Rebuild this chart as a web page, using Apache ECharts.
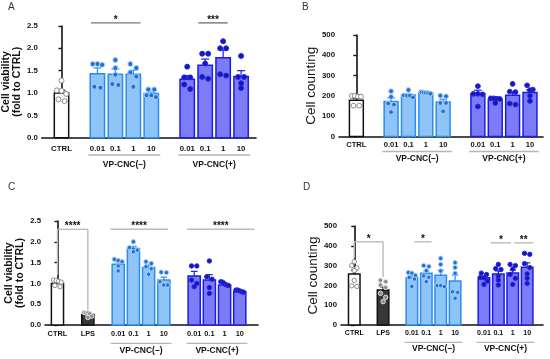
<!DOCTYPE html>
<html><head><meta charset="utf-8">
<script src="https://cdn.jsdelivr.net/npm/echarts@6/dist/echarts.min.js"></script>
<style>html,body{margin:0;padding:0;background:#fff}#c{width:550px;height:359px}</style>
</head><body><div id="c"></div>
<script>
// ================= DATA =================
// Panel A – cell viability (fold to CTRL)
const groupSizesA = [1, 4, 4];
const groupNamesA = ['', 'VP-CNC(–)', 'VP-CNC(+)'];
const tickLabelsA = ['CTRL', '0.01', '0.1', '1', '10', '0.01', '0.1', '1', '10'];
const yTicksA = ['0.0', '0.5', '1.0', '1.5', '2.0', '2.5'];
const meansA = [1.00, 1.43, 1.42, 1.42, 0.99, 1.31, 1.62, 1.79, 1.37];
const semA = [0.06, 0.13, 0.12, 0.09, 0.03, 0.08, 0.14, 0.17, 0.13];
const pointsA = [
  [1.28, 1.06, 1.05, 0.98, 0.86, 0.82],
  [1.65, 1.63, 1.65, 1.12, 1.14],
  [1.74, 1.56, 1.41, 1.18, 1.20],
  [1.65, 1.56, 1.46, 1.37, 1.14],
  [0.91, 1.08, 1.08, 0.95, 0.95],
  [1.59, 1.35, 1.35, 1.19, 1.09],
  [1.88, 1.88, 1.66, 1.36, 1.32],
  [2.16, 2.00, 2.00, 1.39, 1.42],
  [1.83, 1.36, 1.36, 1.22, 1.11]
];
const sigA = [
  { from: 1.64, to: 4.4, y: 2.57, text: '*' },
  { from: 7.62, to: 9.25, y: 2.57, text: '***' }
];

// Panel B – cell counting
const groupSizesB = [1, 4, 4];
const groupNamesB = ['', 'VP-CNC(–)', 'VP-CNC(+)'];
const tickLabelsB = ['CTRL', '0.01', '0.1', '1', '10', '0.01', '0.1', '1', '10'];
const yTicksB = ['0', '100', '200', '300', '400', '500'];
const meansB = [178, 172, 205, 215, 170, 210, 182, 203, 217];
const semB = [10, 18, 6, 3, 14, 18, 5, 18, 13];
const pointsB = [
  [197, 200, 200, 197, 152, 152],
  [223, 195, 163, 157, 120],
  [229, 203, 201, 201, 193],
  [218, 211, 216, 214, 215],
  [201, 198, 165, 165, 124],
  [248, 210, 210, 208, 148],
  [188, 186, 188, 185, 165],
  [259, 221, 219, 162, 157],
  [252, 231, 228, 200, 175]
];
const sigB = [];

// Panel C – cell viability with LPS
const groupSizesC = [1, 1, 4, 4];
const groupNamesC = ['', '', 'VP-CNC(–)', 'VP-CNC(+)'];
const tickLabelsC = ['CTRL', 'LPS', '0.01', '0.1', '1', '10', '0.01', '0.1', '1', '10'];
const yTicksC = ['0.0', '0.5', '1.0', '1.5', '2.0', '2.5'];
const meansC = [1.00, 0.25, 1.46, 1.84, 1.38, 1.08, 1.18, 1.08, 0.96, 0.80];
const semC = [0.03, 0.02, 0.06, 0.05, 0.06, 0.07, 0.11, 0.13, 0.02, 0.02];
const pointsC = [
  [1.08, 1.07, 1.05, 1.03, 0.95, 0.92],
  [0.30, 0.29, 0.29, 0.27, 0.21, 0.18],
  [1.58, 1.55, 1.52, 1.42, 1.30],
  [2.00, 1.86, 1.83, 1.80, 1.76],
  [1.52, 1.48, 1.40, 1.35, 1.22],
  [1.27, 1.26, 1.04, 0.96, 0.96],
  [1.42, 1.42, 1.08, 1.00, 0.92],
  [1.54, 1.16, 1.10, 0.90, 0.76],
  [1.04, 1.03, 0.99, 0.96, 0.95],
  [0.84, 0.84, 0.82, 0.80, 0.79]
];
const sigC = [
  { from: 0, to: 2, y: 2.3, legs: [1.2, 0.36], text: '****' },
  { from: 3.48, to: 7.27, y: 2.3, text: '****' },
  { from: 8.53, to: 12.97, y: 2.3, text: '****' }
];

// Panel D – cell counting with LPS
const groupSizesD = [1, 1, 4, 4];
const groupNamesD = ['', '', 'VP-CNC(–)', 'VP-CNC(+)'];
const tickLabelsD = ['CTRL', 'LPS', '0.01', '0.1', '1', '10', '0.01', '0.1', '1', '10'];
const yTicksD = ['0', '100', '200', '300', '400', '500'];
const meansD = [257, 177, 239, 261, 251, 222, 239, 258, 262, 292];
const semD = [20, 15, 10, 13, 25, 30, 8, 15, 15, 22];
const pointsD = [
  [320, 300, 288, 275, 225, 198, 195],
  [226, 219, 202, 190, 160, 140, 118],
  [265, 262, 250, 240, 232, 195],
  [300, 296, 274, 248, 241, 219],
  [337, 306, 273, 199, 199, 194],
  [315, 290, 261, 168, 165, 135],
  [262, 255, 240, 238, 222, 205],
  [306, 285, 280, 248, 227, 202],
  [306, 300, 283, 255, 236, 205],
  [362, 357, 310, 290, 258, 236, 210]
];
const sigD = [
  { from: 0, to: 2, y: 420, legs: [340, 242], text: '*' },
  { from: 4.17, to: 5.37, y: 420, text: '*' },
  { from: 9.49, to: 10.88, y: 415, text: '*' },
  { from: 11.1, to: 12.43, y: 415, text: '**' }
];

// ================= LAYOUT / STYLE =================
const FONT = '"Liberation Sans", Arial, Helvetica, sans-serif';
const palette = {
  ctrl: { fill: '#ffffff', stroke: '#111111', dotFill: '#ffffff', dotStroke: '#8a8a8a' },
  lps:  { fill: '#383838', stroke: '#111111', dotFill: '#8a8a8a', dotStroke: '#e0e0e0' },
  neg:  { fill: '#8ec4f7', stroke: '#2b8cf2', dotFill: '#1f6fd6', dotStroke: '#a6d0f7' },
  pos:  { fill: '#7b7cf6', stroke: '#1c1ce8', dotFill: '#1515c8', dotStroke: '#2a2ad8' }
};

const panels = [
  { key: 'A', sizes: groupSizesA, names: groupNamesA, ticks: tickLabelsA, yTicks: yTicksA, means: meansA, sem: semA, pts: pointsA, sig: sigA,
    L: { left: 40, top: 26, width: 216, height: 111.7, xMin: -1.1, xMax: 10.83, lblMargin: 7.5, underline: 17.3, groupText: 26.5,
         yName: 'Cell viability\n(fold to CTRL)', nameBold: true, nameSize: 10.5, nameGap: 16, r: 2.5, sigColor: '#777',
         tickFont: 7.8, letterX: 8, letterY: 2 } },
  { key: 'B', sizes: groupSizesB, names: groupNamesB, ticks: tickLabelsB, yTicks: yTicksB, means: meansB, sem: semB, pts: pointsB, sig: sigB,
    L: { left: 339, top: 35, width: 204, height: 101.5, xMin: -1.0, xMax: 10.75, lblMargin: 4, underline: 15, groupText: 22.6,
         yName: 'Cell counting', nameBold: false, nameSize: 13.5, nameGap: 19, r: 2.4, sigColor: '#aaa',
         tickFont: 7.6, letterX: 302, letterY: 2 } },
  { key: 'C', sizes: groupSizesC, names: groupNamesC, ticks: tickLabelsC, yTicks: yTicksC, means: meansC, sem: semC, pts: pointsC, sig: sigC,
    L: { left: 45, top: 221, width: 213, height: 104, xMin: -0.82, xMax: 13.2, lblMargin: 5, underline: 18.3, groupText: 25.5,
         yName: 'Cell viability\n(fold to CTRL)', nameBold: true, nameSize: 10.5, nameGap: 19, r: 2.2, sigColor: '#bbb',
         tickFont: 7.4, letterX: 8, letterY: 182 } },
  { key: 'D', sizes: groupSizesD, names: groupNamesD, ticks: tickLabelsD, yTicks: yTicksD, means: meansD, sem: semD, pts: pointsD, sig: sigD,
    L: { left: 341, top: 226, width: 202, height: 99, xMin: -0.92, xMax: 13.1, lblMargin: 5, underline: 17.3, groupText: 24,
         yName: 'Cell counting', nameBold: false, nameSize: 13.5, nameGap: 20, r: 2.2, sigColor: '#bbb',
         tickFont: 7.1, letterX: 303, letterY: 182 } }
];

const grids = [], xAxes = [], yAxes = [], series = [], graphics = [];

panels.forEach((P, pi) => {
  const L = P.L;
  // positions from group structure (one empty slot between groups)
  const pos = [], groupSpan = [], kinds = [];
  let p = 0;
  P.sizes.forEach((n, gi) => {
    if (gi > 0) p += 1;
    const first = p;
    for (let k = 0; k < n; k++) {
      const idx = pos.length;
      pos.push(p);
      const lbl = P.ticks[idx];
      const gname = P.names[gi];
      kinds.push(lbl === 'CTRL' ? 'ctrl' : lbl === 'LPS' ? 'lps' : (gname.indexOf('+') >= 0 ? 'pos' : 'neg'));
      p++;
    }
    groupSpan.push([first, p - 1]);
  });
  const labelAt = {};
  pos.forEach((x, i) => { labelAt[x] = P.ticks[i]; });

  grids.push({ left: L.left, top: L.top, width: L.width, height: L.height, containLabel: false });

  xAxes.push({
    gridIndex: pi, type: 'value', min: L.xMin, max: L.xMax,
    axisLine: { show: true, onZero: false, lineStyle: { color: '#111', width: 1.6 } },
    axisTick: { show: false }, splitLine: { show: false },
    axisLabel: {
      customValues: pos, margin: L.lblMargin, hideOverlap: false,
      fontFamily: FONT, fontWeight: 'bold', fontSize: L.tickFont, color: '#111',
      formatter: v => labelAt[v] !== undefined ? labelAt[v] : ''
    }
  });

  const yMin = parseFloat(P.yTicks[0]);
  const yMax = parseFloat(P.yTicks[P.yTicks.length - 1]);
  const yInt = parseFloat(P.yTicks[1]) - yMin;
  const dec = (P.yTicks[0].split('.')[1] || '').length;
  yAxes.push({
    gridIndex: pi, type: 'value', min: yMin, max: yMax, interval: yInt,
    name: L.yName, nameLocation: 'middle', nameGap: L.nameGap,
    nameTextStyle: { fontFamily: FONT, fontWeight: L.nameBold ? 'bold' : 'normal', fontSize: L.nameSize,
      lineHeight: L.nameSize + 0.5, color: '#111' },
    axisLine: { show: true, lineStyle: { color: '#111', width: 1.6 } },
    axisTick: { show: true, inside: false, length: 3, lineStyle: { color: '#111', width: 1.4 } },
    splitLine: { show: false },
    axisLabel: { margin: 4, fontFamily: FONT, fontWeight: 'bold', fontSize: 7.8, color: '#111',
      formatter: v => v.toFixed(dec) }
  });

  // Bars
  series.push({
    type: 'custom', xAxisIndex: pi, yAxisIndex: pi, clip: false, z: 2,
    data: P.means.map((m, i) => [pos[i], m]),
    encode: { x: 0, y: 1 },
    renderItem: (params, api) => {
      const i = params.dataIndex;
      const x = api.value(0), v = api.value(1);
      const top = api.coord([x, v]), base = api.coord([x, yMin]);
      const w = api.size([1, 0])[0] * 0.8;
      const st = palette[kinds[i]];
      return { type: 'rect', shape: { x: top[0] - w / 2, y: top[1], width: w, height: base[1] - top[1] },
        style: { fill: st.fill, stroke: st.stroke, lineWidth: 1.5 } };
    }
  });
  // Error bars (mean + SEM, upper only)
  series.push({
    type: 'custom', xAxisIndex: pi, yAxisIndex: pi, clip: false, z: 3,
    data: P.means.map((m, i) => [pos[i], m, m + P.sem[i]]),
    encode: { x: 0, y: [1, 2] },
    renderItem: (params, api) => {
      const i = params.dataIndex;
      const x = api.value(0);
      const a = api.coord([x, api.value(1)]), b = api.coord([x, api.value(2)]);
      const cw = api.size([1, 0])[0] * 0.22;
      const col = palette[kinds[i]].stroke;
      return { type: 'group', children: [
        { type: 'line', shape: { x1: a[0], y1: a[1], x2: b[0], y2: b[1] }, style: { stroke: col, lineWidth: 1.2 } },
        { type: 'line', shape: { x1: b[0] - cw, y1: b[1], x2: b[0] + cw, y2: b[1] }, style: { stroke: col, lineWidth: 1.2 } }
      ] };
    }
  });
  // Individual points, spread horizontally where they overlap
  series.push({
    type: 'custom', xAxisIndex: pi, yAxisIndex: pi, clip: false, z: 4,
    data: P.means.map((m, i) => [pos[i], m]),
    encode: { x: 0, y: 1 },
    renderItem: (params, api) => {
      const i = params.dataIndex;
      const x = api.value(0);
      const cx = api.coord([x, 0])[0];
      const w = api.size([1, 0])[0] * 0.8;
      const r = L.r, d = 2 * r;
      const st = palette[kinds[i]];
      const ys = P.pts[i].map(v => api.coord([x, v])[1]).sort((a, b) => a - b);
      const rows = [];
      ys.forEach(y => {
        const row = rows[rows.length - 1];
        if (row && y - row[0] < d * 0.9) row.push(y); else rows.push([y]);
      });
      const children = [];
      rows.forEach(row => {
        const n = row.length;
        const sp = n > 1 ? Math.min(d * 1.2, (w - d) / (n - 1)) : 0;
        row.forEach((y, k) => {
          children.push({ type: 'circle', shape: { cx: cx + (k - (n - 1) / 2) * sp, cy: y, r: r },
            style: { fill: st.dotFill, stroke: st.dotStroke, lineWidth: 1 } });
        });
      });
      return { type: 'group', children };
    }
  });
  // Group underlines and names
  const named = [];
  P.names.forEach((nm, gi) => { if (nm) named.push({ nm, span: groupSpan[gi] }); });
  series.push({
    type: 'custom', xAxisIndex: pi, yAxisIndex: pi, clip: false, z: 5, silent: true,
    data: named.map(g => [(g.span[0] + g.span[1]) / 2, yMin]),
    encode: { x: 0, y: 1 },
    renderItem: (params, api) => {
      const g = named[params.dataIndex];
      const a = api.coord([g.span[0] - 0.5, yMin]), b = api.coord([g.span[1] + 0.5, yMin]);
      const c = api.coord([api.value(0), yMin]);
      return { type: 'group', children: [
        { type: 'line', shape: { x1: a[0], y1: a[1] + L.underline, x2: b[0], y2: b[1] + L.underline },
          style: { stroke: '#b5b5b5', lineWidth: 1.3 } },
        { type: 'text', x: c[0], y: c[1] + L.groupText,
          style: { text: g.nm, fill: '#111', font: 'bold 8.5px ' + FONT, textAlign: 'center', textVerticalAlign: 'middle' } }
      ] };
    }
  });
  // Significance lines / brackets
  if (P.sig.length) {
    series.push({
      type: 'custom', xAxisIndex: pi, yAxisIndex: pi, clip: false, z: 5, silent: true,
      data: P.sig.map(s => [s.from, s.y]),
      encode: { x: 0, y: 1 },
      renderItem: (params, api) => {
        const s = P.sig[params.dataIndex];
        const a = api.coord([s.from, s.y]), b = api.coord([s.to, s.y]);
        const ch = [{ type: 'line', shape: { x1: a[0], y1: a[1], x2: b[0], y2: b[1] }, style: { stroke: L.sigColor, lineWidth: 1.4 } }];
        if (s.legs) {
          const la = api.coord([s.from, s.legs[0]]), lb = api.coord([s.to, s.legs[1]]);
          ch.push({ type: 'line', shape: { x1: a[0], y1: a[1], x2: la[0], y2: la[1] }, style: { stroke: L.sigColor, lineWidth: 1.4 } });
          ch.push({ type: 'line', shape: { x1: b[0], y1: b[1], x2: lb[0], y2: lb[1] }, style: { stroke: L.sigColor, lineWidth: 1.4 } });
        }
        ch.push({ type: 'text', x: (a[0] + b[0]) / 2, y: a[1] - 3,
          style: { text: s.text, fill: '#111', font: 'bold 10px ' + FONT, textAlign: 'center', textVerticalAlign: 'middle' } });
        return { type: 'group', children: ch };
      }
    });
  }
  graphics.push({ type: 'text', left: L.letterX, top: L.letterY,
    style: { text: P.key, fill: '#333', font: '10px ' + FONT } });
});

const chart = echarts.init(document.getElementById('c'), null, { renderer: 'canvas' });
chart.setOption({
  animation: false,
  backgroundColor: '#ffffff',
  grid: grids, xAxis: xAxes, yAxis: yAxes, series: series, graphic: graphics
});
</script>
</body></html>
